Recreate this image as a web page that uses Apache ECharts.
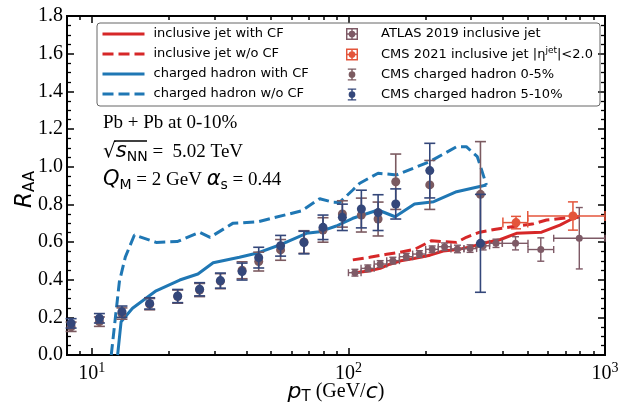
<!DOCTYPE html>
<html lang="en">
<head>
<meta charset="UTF-8">
<script src="https://cdn.jsdelivr.net/npm/echarts@6/dist/echarts.min.js"></script>
<style>
  html, body { margin: 0; padding: 0; background: #fff; }
  #chart { width: 628px; height: 405px; }
</style>
</head>
<body>
<div id="chart"></div>
<script>
// ---- values ----
// CMS charged hadron points (same pT for both centralities)
var chPt     = [8.3, 10.7, 13.1, 16.8, 21.6, 26.3, 31.7, 38.5, 44.7, 54.4, 67.1, 79.6, 94.7, 112.3, 130.5, 152.9, 207.5, 327];
var ch05     = [0.15, 0.177, 0.22, 0.27, 0.31, 0.345, 0.392, 0.45, 0.496, 0.558, 0.6, 0.664, 0.749, 0.743, 0.722, 0.92, 0.903, 0.853];
var ch05Err  = [0.025, 0.025, 0.03, 0.03, 0.035, 0.035, 0.04, 0.045, 0.05, 0.055, 0.06, 0.065, 0.07, 0.09, 0.09, 0.147, 0.13, 0.28];
var ch510    = [0.168, 0.195, 0.23, 0.274, 0.313, 0.349, 0.395, 0.443, 0.517, 0.58, 0.597, 0.678, 0.731, 0.775, 0.756, 0.802, 0.979, 0.593];
var ch510Err = [0.025, 0.025, 0.03, 0.03, 0.035, 0.035, 0.04, 0.045, 0.055, 0.055, 0.06, 0.065, 0.07, 0.1, 0.095, 0.08, 0.145, 0.26];

// ATLAS 2019 inclusive jet
var atlasPt  = [106, 119, 133, 149, 168, 189, 212, 237, 266, 298, 335, 376, 448, 562, 794];
var atlasLo  = [100, 112, 126, 141, 158, 178, 200, 224, 251, 282, 316, 355, 398, 501, 631];
var atlasHi  = [112, 126, 141, 158, 178, 200, 224, 251, 282, 316, 355, 398, 501, 631, 1000];
var atlasRaa = [0.437, 0.46, 0.483, 0.501, 0.522, 0.536, 0.561, 0.575, 0.563, 0.565, 0.58, 0.593, 0.593, 0.56, 0.62];
var atlasErr = [0.018, 0.018, 0.018, 0.018, 0.018, 0.018, 0.018, 0.02, 0.02, 0.02, 0.022, 0.022, 0.035, 0.062, 0.163];

// CMS 2021 inclusive jet
var cmsJetPt  = [450, 750];
var cmsJetLo  = [400, 500];
var cmsJetHi  = [500, 1000];
var cmsJetRaa = [0.703, 0.738];
var cmsJetErr = [0.033, 0.075];

// model curves
var jetCfPt = [104, 118, 133, 145, 160, 180, 208, 234, 272, 306, 345, 389, 452, 566, 667, 752, 798];
var jetCf   = [0.435, 0.445, 0.46, 0.482, 0.5, 0.512, 0.53, 0.552, 0.562, 0.578, 0.597, 0.612, 0.646, 0.652, 0.69, 0.726, 0.734];
var jetNoPt = [104, 121, 141, 158, 181, 211, 234, 264, 288, 325, 375, 452, 520, 592, 700, 798];
var jetNo   = [0.505, 0.519, 0.535, 0.545, 0.561, 0.607, 0.602, 0.598, 0.625, 0.652, 0.668, 0.685, 0.695, 0.717, 0.727, 0.736];
var hadCfPt = [12.6, 13.0, 14.4, 17.8, 22.0, 25.9, 29.7, 37.6, 43.8, 53.9, 68.6, 77.3, 89.7, 104, 130.5, 152, 181, 215, 264, 345];
var hadCf   = [0.0, 0.177, 0.248, 0.341, 0.398, 0.43, 0.49, 0.519, 0.54, 0.584, 0.646, 0.655, 0.685, 0.726, 0.77, 0.734, 0.802, 0.814, 0.867, 0.903];
var hadNoPt = [11.9, 12.8, 13.5, 14.65, 17.8, 21.5, 26.3, 28.9, 35.4, 44.5, 65.5, 77.3, 86.6, 92.4, 104, 110.7, 130.5, 154, 207.5, 264, 288, 318, 345];
var hadNo   = [0.0, 0.389, 0.52, 0.637, 0.598, 0.602, 0.652, 0.625, 0.699, 0.708, 0.765, 0.83, 0.812, 0.81, 0.876, 0.912, 0.965, 0.956, 1.027, 1.106, 1.106, 1.053, 0.903];

// axis ticks
var xMajor = [10, 100, 1000];
var xMinor = [8, 9, 20, 30, 40, 50, 60, 70, 80, 90, 200, 300, 400, 500, 600, 700, 800, 900];

var SERIF = '"Liberation Serif", "Times New Roman", serif';
var SANS = '"DejaVu Sans", sans-serif';

var RED = '#d62728', BLUE = '#1f77b4';
var NAVY = '#34477a', BROWN = '#7b5a60', ATLAS_C = '#7e5a66', CMS_C = '#e4553b';

function pairs(xs, ys) {
    return xs.map(function (x, i) { return [x, ys[i]]; });
}
// rows: [x, y, yLow, yHigh, xLow, xHigh]
function errRows(xs, ys, err, lo, hi) {
    return xs.map(function (x, i) {
        return [x, ys[i], ys[i] - err[i], ys[i] + err[i], lo ? lo[i] : x, hi ? hi[i] : x];
    });
}

function errRender(cap, lw, withX) {
    return function (params, api) {
        var color = api.visual('color');
        var x = api.value(0), y = api.value(1);
        var c = api.coord([x, y]);
        var top = api.coord([x, api.value(3)]);
        var bot = api.coord([x, api.value(2)]);
        var st = { stroke: color, lineWidth: lw };
        var kids = [
            { type: 'line', shape: { x1: c[0], y1: bot[1], x2: c[0], y2: top[1] }, style: st },
            { type: 'line', shape: { x1: c[0] - cap, y1: top[1], x2: c[0] + cap, y2: top[1] }, style: st },
            { type: 'line', shape: { x1: c[0] - cap, y1: bot[1], x2: c[0] + cap, y2: bot[1] }, style: st }
        ];
        if (withX) {
            var l = api.coord([api.value(4), y]);
            var r = api.coord([api.value(5), y]);
            kids.push(
                { type: 'line', shape: { x1: l[0], y1: c[1], x2: r[0], y2: c[1] }, style: st },
                { type: 'line', shape: { x1: l[0], y1: c[1] - cap, x2: l[0], y2: c[1] + cap }, style: st },
                { type: 'line', shape: { x1: r[0], y1: c[1] - cap, x2: r[0], y2: c[1] + cap }, style: st }
            );
        }
        return { type: 'group', children: kids };
    };
}

function xAx(pos, ticks, len, withLabel) {
    var ax = {
        type: 'log', logBase: 10, min: 8, max: 1000, position: pos, gridIndex: 0,
        axisLine: { show: true, lineStyle: { color: '#000', width: 2 } },
        axisTick: { show: true, inside: true, length: len, customValues: ticks, lineStyle: { color: '#000', width: 1.5 } },
        axisLabel: { show: false },
        splitLine: { show: false }
    };
    if (withLabel) {
        ax.axisLabel = {
            show: true, customValues: xMajor, margin: 6, color: '#000',
            formatter: function (v) {
                return '{b|10}{e|' + Math.round(Math.log10(v)) + '}';
            },
            rich: {
                b: { fontFamily: SERIF, fontSize: 20, color: '#000' },
                e: { fontFamily: SERIF, fontSize: 14, color: '#000', padding: [0, 0, 11, 0] }
            }
        };
        ax.name = '{i|p}{sub|T}{s| (GeV/}{i|c}{s|)}';
        ax.nameLocation = 'middle';
        ax.nameGap = 24;
        ax.nameMoveOverlap = false;
        ax.nameTextStyle = {
            color: '#000',
            rich: {
                i: { fontFamily: SANS, fontStyle: 'italic', fontSize: 22, color: '#000' },
                sub: { fontFamily: SANS, fontSize: 15, color: '#000', padding: [11, 0, 0, 0] },
                s: { fontFamily: SERIF, fontSize: 20, color: '#000' }
            }
        };
    }
    return ax;
}

function yAx(pos, withLabel) {
    var ax = {
        type: 'value', min: 0, max: 1.8, interval: 0.2, position: pos, gridIndex: 0,
        axisLine: { show: true, lineStyle: { color: '#000', width: 2 } },
        axisTick: { show: true, inside: true, length: 7, lineStyle: { color: '#000', width: 1.5 } },
        minorTick: { show: true, splitNumber: 4, length: 4, lineStyle: { color: '#000', width: 1.3 } },
        splitLine: { show: false },
        axisLabel: { show: false }
    };
    if (withLabel) {
        ax.axisLabel = {
            show: true, margin: 4, color: '#000', fontFamily: SERIF, fontSize: 20,
            formatter: function (v) { return v.toFixed(1); }
        };
        ax.name = '{i|R}{sub|AA}';
        ax.nameLocation = 'middle';
        ax.nameGap = 29;
        ax.nameMoveOverlap = false;
        ax.nameTextStyle = {
            color: '#000',
            padding: [0, 8, 0, 0],
            rich: {
                i: { fontFamily: SANS, fontStyle: 'italic', fontSize: 23, color: '#000' },
                sub: { fontFamily: SANS, fontSize: 15, color: '#000', padding: [11, 0, 0, 0] }
            }
        };
    }
    return ax;
}

var ICON_BOX = 'path://M0 0H100V100H0Z M12 12V88H88V12Z M0 44H100V56H0Z M44 0H56V100H44Z M22 50A28 28 0 1 1 78 50A28 28 0 1 1 22 50Z';
var ICON_BAR = 'path://M44 0H56V100H44Z M15 0H85V10H15Z M15 90H85V100H15Z M22 50A28 28 0 1 1 78 50A28 28 0 1 1 22 50Z';

var N_ATLAS = 'ATLAS 2019 inclusive jet';
var N_CMSJ = 'CMS 2021 inclusive jet |η^jet|<2.0';
var N_CH05 = 'CMS charged hadron 0-5%';
var N_CH510 = 'CMS charged hadron 5-10%';

var legendText = { fontFamily: SANS, fontSize: 13, color: '#000', lineHeight: 16 };

var option = {
    animation: false,
    backgroundColor: '#fff',
    grid: { left: 67, right: 23, top: 16, bottom: 50, containLabel: false, outerBoundsMode: 'none' },
    xAxis: [
        xAx('bottom', xMajor, 7, true),
        xAx('bottom', xMinor, 4, false),
        xAx('top', xMajor, 7, false),
        xAx('top', xMinor, 4, false)
    ],
    yAxis: [yAx('left', true), yAx('right', false)],
    legend: [{
        orient: 'vertical', left: 101, top: 26, padding: 0, itemWidth: 42, itemHeight: 12, itemGap: 4,
        textStyle: Object.assign({ padding: [0, 0, 0, 4] }, legendText),
        itemStyle: { opacity: 0 },
        lineStyle: { width: 3 },
        selectedMode: false,
        data: ['inclusive jet with CF', 'inclusive jet w/o CF', 'charged hadron with CF', 'charged hadron w/o CF']
    }, {
        orient: 'vertical', left: 346, top: 26, padding: 0, itemWidth: 12, itemHeight: 12, itemGap: 4,
        textStyle: Object.assign({
            padding: [0, 0, 0, 18],
            rich: { sup: { fontFamily: SANS, fontSize: 9, color: '#000', padding: [0, 0, 8, 0] } }
        }, legendText),
        selectedMode: false,
        formatter: function (n) {
            return n === N_CMSJ ? 'CMS 2021 inclusive jet |η{sup|jet}|<2.0' : n;
        },
        data: [
            { name: N_ATLAS, icon: ICON_BOX },
            { name: N_CMSJ, icon: ICON_BOX },
            { name: N_CH05, icon: ICON_BAR },
            { name: N_CH510, icon: ICON_BAR }
        ]
    }],
    graphic: [
        { type: 'rect', shape: { x: 97, y: 23, width: 503, height: 83, r: 3 },
          style: { fill: 'none', stroke: '#666', lineWidth: 1 }, z: 10 },
        { type: 'text', x: 103, y: 123,
          style: { text: 'Pb + Pb at 0-10%', fontFamily: SERIF, fontSize: 19, fill: '#000', verticalAlign: 'middle' } },
        { type: 'text', x: 103, y: 152,
          style: {
              text: '{q|√}{i|s}{sub|NN}{r| =  5.02 TeV}', verticalAlign: 'middle', fill: '#000',
              rich: {
                  q: { fontFamily: SANS, fontSize: 20, fill: '#000' },
                  i: { fontFamily: SANS, fontStyle: 'italic', fontSize: 21, fill: '#000' },
                  sub: { fontFamily: SANS, fontSize: 14, fill: '#000', padding: [10, 0, 0, 0] },
                  r: { fontFamily: SERIF, fontSize: 19, fill: '#000' }
              }
          } },
        { type: 'line', shape: { x1: 114, y1: 141, x2: 147, y2: 141 }, style: { stroke: '#000', lineWidth: 1.3 } },
        { type: 'text', x: 103, y: 180,
          style: {
              text: '{i|Q}{sub|M}{r| = 2 GeV }{i|α}{sub|s}{r| = 0.44}', verticalAlign: 'middle', fill: '#000',
              rich: {
                  i: { fontFamily: SANS, fontStyle: 'italic', fontSize: 21, fill: '#000' },
                  sub: { fontFamily: SANS, fontSize: 14, fill: '#000', padding: [10, 0, 0, 0] },
                  r: { fontFamily: SERIF, fontSize: 19, fill: '#000' }
              }
          } }
    ],
    series: [
        { name: 'inclusive jet with CF', type: 'line', data: pairs(jetCfPt, jetCf), symbol: 'none', z: 2,
          itemStyle: { color: RED }, lineStyle: { color: RED, width: 3 } },
        { name: 'inclusive jet w/o CF', type: 'line', data: pairs(jetNoPt, jetNo), symbol: 'none', z: 2,
          itemStyle: { color: RED }, lineStyle: { color: RED, width: 3, type: [11, 5] } },
        { name: 'charged hadron with CF', type: 'line', data: pairs(hadCfPt, hadCf), symbol: 'none', z: 2,
          itemStyle: { color: BLUE }, lineStyle: { color: BLUE, width: 3 } },
        { name: 'charged hadron w/o CF', type: 'line', data: pairs(hadNoPt, hadNo), symbol: 'none', z: 2,
          itemStyle: { color: BLUE }, lineStyle: { color: BLUE, width: 3, type: [11, 5] } },

        { name: N_ATLAS, type: 'custom', renderItem: errRender(3.5, 1.4, true), z: 3,
          itemStyle: { color: ATLAS_C }, encode: { x: 0, y: 1 },
          data: errRows(atlasPt, atlasRaa, atlasErr, atlasLo, atlasHi) },
        { name: N_ATLAS, type: 'scatter', data: pairs(atlasPt, atlasRaa), symbolSize: 7, z: 4,
          itemStyle: { color: ATLAS_C, opacity: 1 } },

        { name: N_CMSJ, type: 'custom', renderItem: errRender(5, 1.5, true), z: 3,
          itemStyle: { color: CMS_C }, encode: { x: 0, y: 1 },
          data: errRows(cmsJetPt, cmsJetRaa, cmsJetErr, cmsJetLo, cmsJetHi) },
        { name: N_CMSJ, type: 'scatter', data: pairs(cmsJetPt, cmsJetRaa), symbolSize: 9, z: 4,
          itemStyle: { color: CMS_C, opacity: 1 } },

        { name: N_CH05, type: 'custom', renderItem: errRender(5.5, 1.6, false), z: 3,
          itemStyle: { color: BROWN }, encode: { x: 0, y: 1 },
          data: errRows(chPt, ch05, ch05Err) },
        { name: N_CH05, type: 'scatter', data: pairs(chPt, ch05), symbolSize: 9, z: 4,
          itemStyle: { color: BROWN, opacity: 1 } },

        { name: N_CH510, type: 'custom', renderItem: errRender(5.5, 1.6, false), z: 5,
          itemStyle: { color: NAVY }, encode: { x: 0, y: 1 },
          data: errRows(chPt, ch510, ch510Err) },
        { name: N_CH510, type: 'scatter', data: pairs(chPt, ch510), symbolSize: 9, z: 6,
          itemStyle: { color: NAVY, opacity: 1 } }
    ]
};

var chart = echarts.init(document.getElementById('chart'), null, { renderer: 'canvas' });
chart.setOption(option);
</script>
</body>
</html>
